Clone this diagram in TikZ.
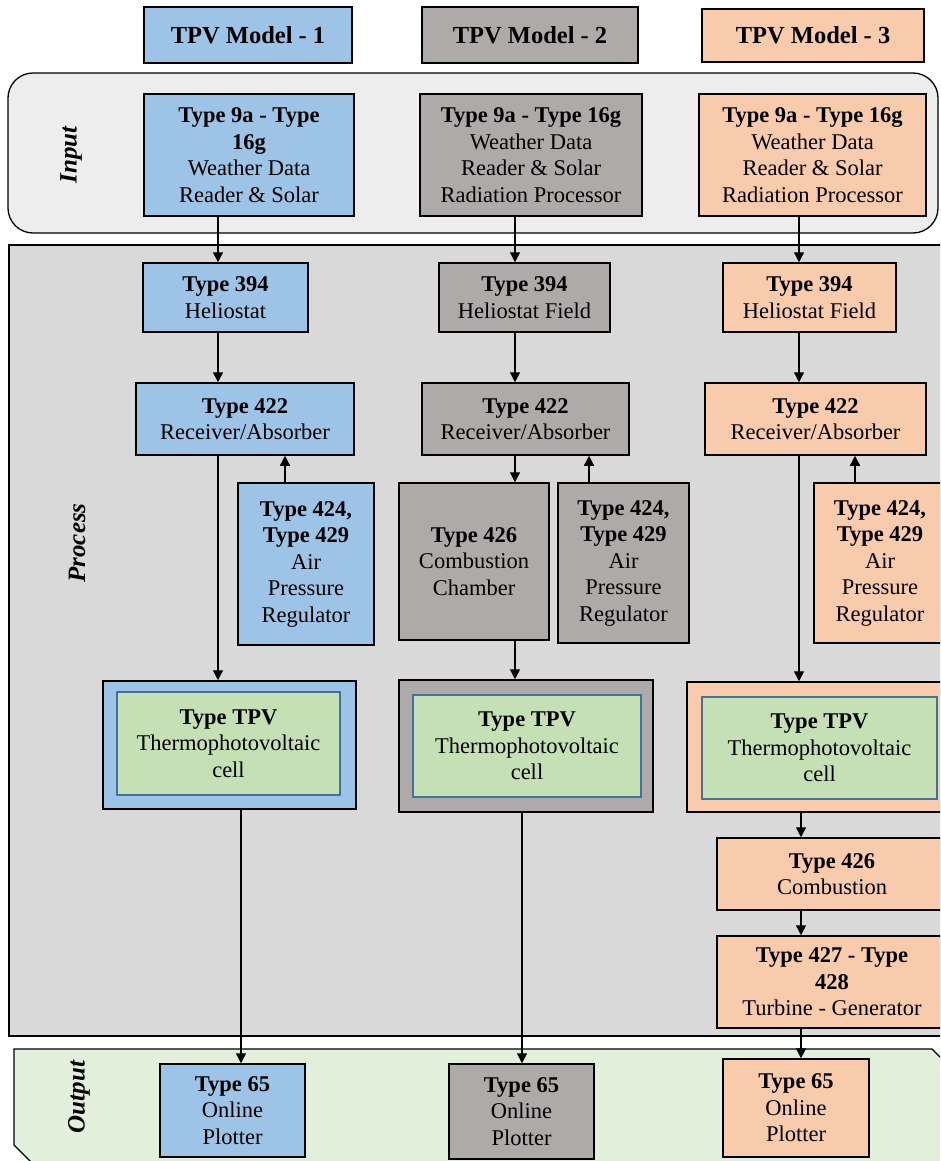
\documentclass[tikz,border=0pt]{standalone}
\usepackage{fontspec}
\setmainfont{Liberation Serif}
\usetikzlibrary{arrows.meta}
\definecolor{mblue}{HTML}{9DC3E6}
\definecolor{mgray}{HTML}{AEAAAA}
\definecolor{mpeach}{HTML}{F8CBAD}
\definecolor{mgreen}{HTML}{C5E0B4}
\definecolor{innerblue}{HTML}{41719C}
\definecolor{procfill}{HTML}{D9D9D9}
\definecolor{inputfill}{HTML}{EDEDED}
\definecolor{outfill}{HTML}{E2EFDA}
\begin{document}
\begin{tikzpicture}[x=1pt,y=-1pt,
  box/.style={draw=black, line width=1.5pt, inner sep=0pt, align=center,
              font=\fontsize{22.5}{26.5}\selectfont},
  bluebox/.style={box, fill=mblue},
  graybox/.style={box, fill=mgray},
  peachbox/.style={box, fill=mpeach},
  hdr/.style={font=\fontsize{24.5}{28}\selectfont\bfseries},
  cellbox/.style={draw=innerblue, line width=1.4pt, fill=mgreen, inner sep=0pt,
              align=center, font=\fontsize{22.5}{26.5}\selectfont},
  band/.style={draw=black, line width=1.3pt},
  sidelabel/.style={rotate=90, font=\fontsize{25}{30}\selectfont\bfseries\itshape},
  arr/.style={draw=black, line width=1.4pt, -{Triangle[length=10pt,width=10pt]}},
  sz/.style 2 args={minimum width=#1pt, minimum height=#2pt}
]
\useasboundingbox (0,0) rectangle (940,1161);
\clip (0,0) rectangle (940,1161);
\fill[white] (0,0) rectangle (940,1161);

% bands
\draw[band, fill=inputfill, rounded corners=25pt] (8,73) rectangle (938,233);
\draw[band, fill=procfill] (9,245) rectangle (990,1036);
\draw[band, fill=outfill] (14,1049) -- (932,1049) -- (990,1107) -- (990,1220) -- (89,1220) -- (14,1145) -- cycle;

\node[sidelabel] (lin) at (71,155) {Input};
\node[sidelabel] (lproc) at (77,543) {Process};
\node[sidelabel] (lout) at (79,1097) {Output};

% headers
\node[bluebox, hdr, sz={208}{56}] (h1) at (248,35) {TPV Model - 1};
\node[graybox, hdr, sz={216}{56}] (h2) at (530,35) {TPV Model - 2};
\node[peachbox, hdr, sz={222}{53}] (h3) at (813,35.5) {TPV Model - 3};

% input boxes
\node[bluebox, sz={210}{122}] (in1) at (249,155) {\textbf{Type 9a - Type}\\\textbf{16g}\\Weather Data\\Reader \& Solar};
\node[graybox, sz={222}{122}] (in2) at (531,155) {\textbf{Type 9a - Type 16g}\\Weather Data\\Reader \& Solar\\Radiation Processor};
\node[peachbox, sz={227}{122}] (in3) at (812.5,155) {\textbf{Type 9a - Type 16g}\\Weather Data\\Reader \& Solar\\Radiation Processor};

% Type 394
\node[bluebox, sz={165}{69}] (p1) at (225.5,297.5) {\textbf{Type 394}\\Heliostat};
\node[graybox, sz={171}{69}] (p2) at (524.5,297.5) {\textbf{Type 394}\\Heliostat Field};
\node[peachbox, sz={173}{69}] (p3) at (809.5,297.5) {\textbf{Type 394}\\Heliostat Field};

% Type 422
\node[bluebox, sz={218}{72}] (r1) at (245,419) {\textbf{Type 422}\\Receiver/Absorber};
\node[graybox, sz={207}{72}] (r2) at (525.5,419) {\textbf{Type 422}\\Receiver/Absorber};
\node[peachbox, sz={221}{72}] (r3) at (815.5,419) {\textbf{Type 422}\\Receiver/Absorber};

% Type 424/429
\node[bluebox, sz={136}{162}] (a1) at (306,564) {\textbf{Type 424,}\\\textbf{Type 429}\\Air\\Pressure\\Regulator};
\node[graybox, sz={131}{160}] (a2) at (623.5,563) {\textbf{Type 424,}\\\textbf{Type 429}\\Air\\Pressure\\Regulator};
\node[peachbox, sz={132}{160}] (a3) at (880,563) {\textbf{Type 424,}\\\textbf{Type 429}\\Air\\Pressure\\Regulator};

% Combustion chamber (model 2)
\node[graybox, sz={150}{157}] (c2) at (474,561.5) {\textbf{Type 426}\\Combustion\\Chamber};

% TPV cells
\node[bluebox, sz={253}{128}] (t1) at (229.5,745) {};
\node[cellbox, sz={223}{103}] (t1i) at (228.5,743.5) {\textbf{Type TPV}\\Thermophotovoltaic\\cell};
\node[graybox, sz={254}{132}] (t2) at (526,746) {};
\node[cellbox, sz={228}{102}] (t2i) at (527,746) {\textbf{Type TPV}\\Thermophotovoltaic\\cell};
\node[peachbox, sz={265}{130}] (t3) at (819.5,747) {};
\node[cellbox, sz={235}{102}] (t3i) at (819.5,748) {\textbf{Type TPV}\\Thermophotovoltaic\\cell};

% Model 3 extra chain
\node[peachbox, sz={230}{72}] (k3) at (832,874) {\textbf{Type 426}\\Combustion};
\node[peachbox, sz={230}{92}] (g3) at (832,982) {\textbf{Type 427 - Type}\\\textbf{428}\\Turbine - Generator};

% outputs
\node[bluebox, sz={145}{93}] (o1) at (232.5,1110.5) {\textbf{Type 65}\\Online\\Plotter};
\node[graybox, sz={145}{95}] (o2) at (521.5,1111.5) {\textbf{Type 65}\\Online\\Plotter};
\node[peachbox, sz={146}{98}] (o3) at (796,1108) {\textbf{Type 65}\\Online\\Plotter};

% arrow columns
\coordinate (x1) at (218,0);
\coordinate (x1b) at (285,0);
\coordinate (x1c) at (241,0);
\coordinate (x2) at (515,0);
\coordinate (x2b) at (589,0);
\coordinate (x2c) at (522,0);
\coordinate (x3) at (799,0);
\coordinate (x3b) at (855,0);
\coordinate (x3c) at (801,0);

% connectors model 1
\draw[arr] (in1.south -| x1) -- (p1.north -| x1);
\draw[arr] (p1.south -| x1) -- (r1.north -| x1);
\draw[arr] (r1.south -| x1) -- (t1.north -| x1);
\draw[arr] (a1.north -| x1b) -- (r1.south -| x1b);
\draw[arr] (t1.south -| x1c) -- (o1.north -| x1c);

% connectors model 2
\draw[arr] (in2.south -| x2) -- (p2.north -| x2);
\draw[arr] (p2.south -| x2) -- (r2.north -| x2);
\draw[arr] (r2.south -| x2) -- (c2.north -| x2);
\draw[arr] (a2.north -| x2b) -- (r2.south -| x2b);
\draw[arr] (c2.south -| x2) -- (t2.north -| x2);
\draw[arr] (t2.south -| x2c) -- (o2.north -| x2c);

% connectors model 3
\draw[arr] (in3.south -| x3) -- (p3.north -| x3);
\draw[arr] (p3.south -| x3) -- (r3.north -| x3);
\draw[arr] (r3.south -| x3) -- (t3.north -| x3);
\draw[arr] (a3.north -| x3b) -- (r3.south -| x3b);
\draw[arr] (t3.south -| x3c) -- (k3.north -| x3c);
\draw[arr] (k3.south -| x3c) -- (g3.north -| x3c);
\draw[arr] (g3.south -| x3c) -- (o3.north -| x3c);
\end{tikzpicture}
\end{document}
